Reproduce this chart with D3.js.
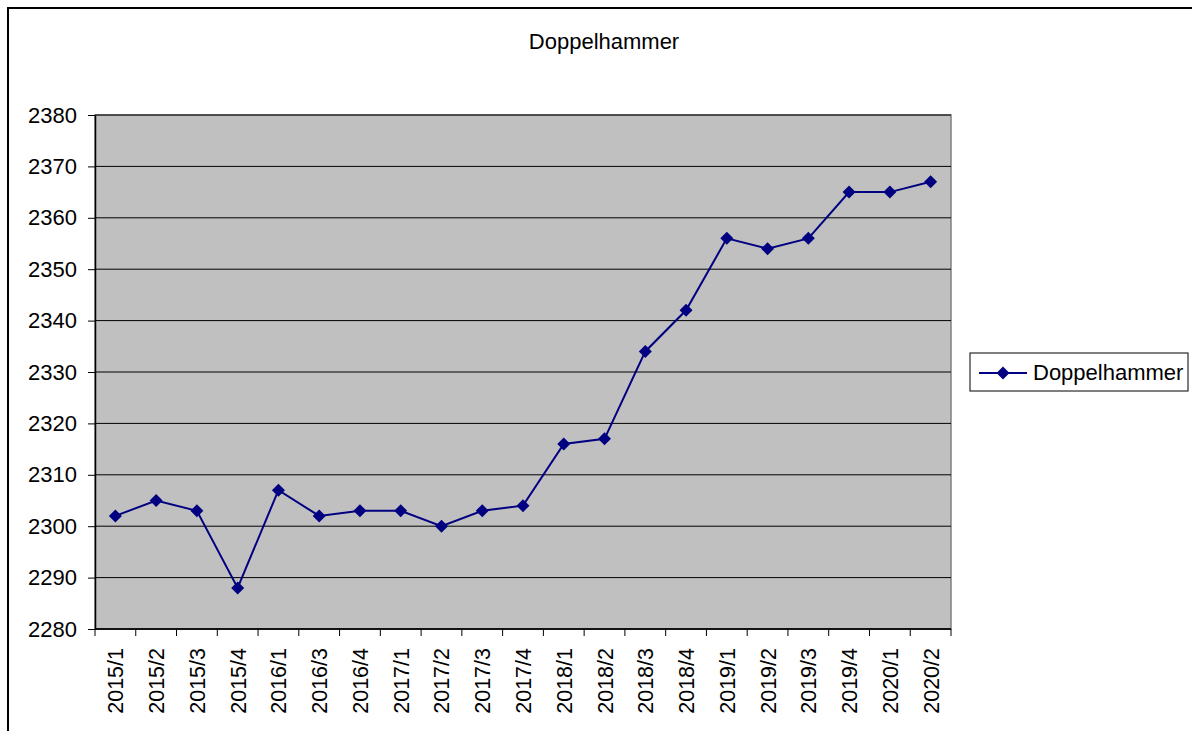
<!DOCTYPE html>
<html><head><meta charset="utf-8">
<script src="https://cdn.jsdelivr.net/npm/d3@7"></script>
<style>body{margin:0;background:#fff;}svg{display:block;font-family:"Liberation Sans",Arial,sans-serif;}</style>
</head><body>
<svg id="c" width="1192" height="731"></svg>
<script>
const categories = ["2015/1","2015/2","2015/3","2015/4","2016/1","2016/3","2016/4","2017/1","2017/2","2017/3","2017/4","2018/1","2018/2","2018/3","2018/4","2019/1","2019/2","2019/3","2019/4","2020/1","2020/2"];
const values = [2302,2305,2303,2288,2307,2302,2303,2303,2300,2303,2304,2316,2317,2334,2342,2356,2354,2356,2365,2365,2367];
const yTicks = [2280,2290,2300,2310,2320,2330,2340,2350,2360,2370,2380];
const seriesName = "Doppelhammer";
const title = "Doppelhammer";

const svg = d3.select("#c");
const L = 95, R = 951, T = 115, B = 629;
const x = d3.scaleBand().domain(categories).range([L, R]);
const y = d3.scaleLinear().domain([2280, 2380]).range([B, T]);
const col = "#000080";
const FONT = "Liberation Sans, Arial, sans-serif";

// outer frame
svg.append("rect").attr("x", 8).attr("y", 8).attr("width", 1200).attr("height", 760)
  .attr("fill", "none").attr("stroke", "#000").attr("stroke-width", 2);

// title
svg.append("text").attr("x", 604).attr("y", 49).attr("text-anchor", "middle")
  .attr("font-size", 22).text(title);

// plot area
svg.append("rect").attr("x", L).attr("y", T).attr("width", R - L).attr("height", B - T)
  .attr("fill", "#c0c0c0").attr("stroke", "#808080").attr("stroke-width", 1.5);

// gridlines
svg.append("g").selectAll("line").data(yTicks).join("line")
  .attr("x1", L).attr("x2", R).attr("y1", d => y(d)).attr("y2", d => y(d))
  .attr("stroke", "#000").attr("stroke-width", 1);

// y axis
const yAxis = svg.append("g").attr("transform", `translate(${L},0)`)
  .call(d3.axisLeft(y).tickValues(yTicks).tickFormat(d3.format("d")).tickSize(7).tickPadding(11).tickSizeOuter(0));
yAxis.select(".domain").attr("stroke", "#000").attr("stroke-width", 1.5);
yAxis.selectAll(".tick line").attr("stroke", "#000");
yAxis.selectAll("text").attr("font-size", 22).attr("font-family", FONT).attr("fill", "#000");

// x axis
const xTickPos = categories.map(c => x(c)).concat([R]);
const xAxisG = svg.append("g");
xAxisG.append("line").attr("x1", L).attr("x2", R).attr("y1", B).attr("y2", B).attr("stroke", "#000").attr("stroke-width", 1.5);
xAxisG.selectAll("line.t").data(xTickPos).join("line").attr("class", "t")
  .attr("x1", d => d).attr("x2", d => d).attr("y1", B).attr("y2", B + 7).attr("stroke", "#000");
xAxisG.selectAll("text").data(categories).join("text")
  .attr("transform", d => `translate(${x(d) + x.bandwidth() / 2 + 8},${B + 19}) rotate(-90)`)
  .attr("text-anchor", "end").attr("font-size", 21.5).text(d => d);

// line
const line = d3.line().x((d, i) => x(categories[i]) + x.bandwidth() / 2).y(d => y(d));
svg.append("path").datum(values).attr("d", line).attr("fill", "none").attr("stroke", col).attr("stroke-width", 2);
const diamond = "M0,-6.5L6.5,0L0,6.5L-6.5,0Z";
svg.append("g").selectAll("path").data(values).join("path")
  .attr("transform", (d, i) => `translate(${x(categories[i]) + x.bandwidth() / 2},${y(d)})`)
  .attr("d", diamond).attr("fill", col);

// legend
const lg = svg.append("g");
lg.append("rect").attr("x", 970).attr("y", 353).attr("width", 218).attr("height", 38)
  .attr("fill", "#fff").attr("stroke", "#000").attr("stroke-width", 1);
lg.append("line").attr("x1", 979).attr("x2", 1027).attr("y1", 373).attr("y2", 373).attr("stroke", col).attr("stroke-width", 2);
lg.append("path").attr("transform", "translate(1003,373)").attr("d", diamond).attr("fill", col);
lg.append("text").attr("x", 1033).attr("y", 380).attr("font-size", 22).text(seriesName);
</script>
</body></html>
